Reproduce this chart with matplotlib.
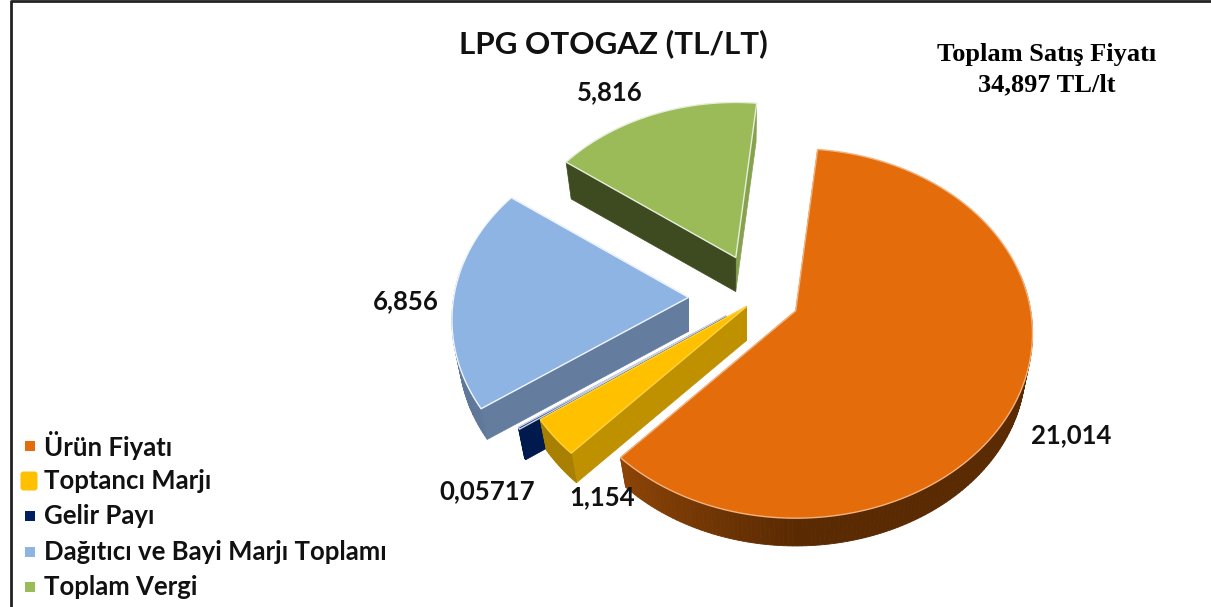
import numpy as np
import matplotlib
matplotlib.use('Agg')
import matplotlib.pyplot as plt
from matplotlib.patches import Polygon, Rectangle, FancyBboxPatch
from matplotlib.colors import to_rgb

# veriler
categories = ['Ürün Fiyatı', 'Toptancı Marjı', 'Gelir Payı', 'Dağıtıcı ve Bayi Marjı Toplamı', 'Toplam Vergi']
values = [21.014, 1.154, 0.05717, 6.856, 5.816]
value_labels = ['21,014', '1,154', '0,05717', '6,856', '5,816']
title = 'LPG OTOGAZ (TL/LT)'
note_lines = ['Toplam Satış Fiyatı', '34,897 TL/lt']

# stil
top_colors = ['#E46C0A', '#FFC000', '#002060', '#8EB4E3', '#9BBB59']
edge_colors = ['#F3B27E', '#FFD23F', '#C9D3E6', '#F2F6FC', '#E6EEDA']
start_cut_colors = ['#A14C07', '#BF9000', '#001A4D', '#647D9E', '#3E4A20']
end_cut_colors = ['#A14C07', '#A87F00', '#001A4D', '#647D9E', '#87A24F']
arc_shades = [('#8F4507', '#5A2A02', '#5A2A02'),
              ('#A87F00', '#A87F00', '#A87F00'),
              ('#001A4D', '#001A4D', '#001A4D'),
              ('#5F789A', '#7190B8', '#7E9FC9'),
              ('#87A24F', '#87A24F', '#87A24F')]
explode = [0.17, 0.07, 0.17, 0.30, 0.25]
draw_order = [4, 3, 2, 1, 0]
label_xy = [(1071, 435), (602, 497), (487, 491), (406, 301), (610, 92)]
legend_y = [446, 481, 516, 552, 587]

# perspektif
first_angle = 6.0
center = (759, 298)
rx, ry, persp = 235, 182, 0.122
depth, shrink = 34, 0.97


def project(theta, r=1.0):
    sin_t, cos_t = np.sin(np.radians(theta)), np.cos(np.radians(theta))
    d = 1 + persp * cos_t * r
    return r * sin_t * rx / d, -r * cos_t * ry / d


fig = plt.figure(figsize=(12.11, 6.07), dpi=100)
ax = fig.add_axes([0, 0, 1, 1])
ax.set_xlim(0, 1211)
ax.set_ylim(607, 0)
ax.axis('off')

sweeps = np.array(values) / np.sum(values) * 360
starts = first_angle + np.concatenate([[0], np.cumsum(sweeps)[:-1]])

for i in draw_order:
    a0, a1 = starts[i], starts[i] + sweeps[i]
    mid = (a0 + a1) / 2
    ox, oy = project(mid, explode[i])
    ax_x, ax_y = center[0] + ox, center[1] + oy
    # arkaya dogru acilan dilim biraz kuculuyor
    far = 1 / (1 + 0.2 * max(explode[i] * np.cos(np.radians(mid)), 0))
    thetas = np.linspace(a0, a1, max(int(sweeps[i]), 2) + 1)
    rim = np.array([project(t) for t in thetas]) * far
    top = np.vstack([[ax_x, ax_y], rim + [ax_x, ax_y]])
    low = np.vstack([[ax_x, ax_y + depth], rim * shrink + [ax_x, ax_y + depth]])
    # kesit yuzleri
    ax.add_patch(Polygon([top[0], top[-1], low[-1], low[0]], closed=True,
                         fc=end_cut_colors[i], ec=end_cut_colors[i], lw=0.5))
    ax.add_patch(Polygon([top[0], top[1], low[1], low[0]], closed=True,
                         fc=start_cut_colors[i], ec=start_cut_colors[i], lw=0.5))
    # dis yuzey, aciya gore renk degisiyor
    c0, c1, c2 = [np.array(to_rgb(c)) for c in arc_shades[i]]
    for k in range(1, len(top) - 1):
        t = (thetas[k - 1] + thetas[k]) / 2 % 360
        if np.cos(np.radians(t)) > 0.2:
            continue  # arka taraf gorunmuyor
        u = np.clip((t - 180) / 45, 0, 1) if t > 180 else 0
        v = np.clip((180 - t) / 80, 0, 1) if t <= 180 else 0
        col = c1 + (c0 - c1) * u + (c2 - c1) * v
        ax.add_patch(Polygon([top[k], top[k + 1], low[k + 1], low[k]], closed=True,
                             fc=col, ec=col, lw=0.6))
    ax.add_patch(Polygon(top, closed=True, fc=top_colors[i], ec=edge_colors[i], lw=1.0))

for xy, text in zip(label_xy, value_labels):
    ax.text(xy[0], xy[1], text, ha='center', va='center', fontsize=18.5,
            fontweight='bold', family='Lato', color='#111111')

ax.text(613, 44, title, ha='center', va='center', fontsize=22.6, fontweight='bold',
        family='Lato', color='#111111')
ax.text(1047, 54, note_lines[0], ha='center', va='center', fontsize=19, fontweight='bold',
        family='Liberation Serif', color='black')
ax.text(1047, 85, note_lines[1], ha='center', va='center', fontsize=19, fontweight='bold',
        family='Liberation Serif', color='black')

# legend
for i, (name, y) in enumerate(zip(categories, legend_y)):
    if i == 1:
        ax.add_patch(FancyBboxPatch((22, y - 8), 14, 16, boxstyle='round,pad=1.5,rounding_size=3',
                                    fc=top_colors[i], ec='none'))
    else:
        ax.add_patch(Rectangle((25, y - 5), 10, 10, fc=top_colors[i], ec='none'))
    ax.text(44, y, name, ha='left', va='center', fontsize=18.5, fontweight='bold',
            family='Lato', color='#111111')

# cerceve
ax.plot([11, 11, 1211], [607, 1, 1], color='#222222', lw=2, solid_capstyle='butt')

fig.savefig('out.png', dpi=100)
